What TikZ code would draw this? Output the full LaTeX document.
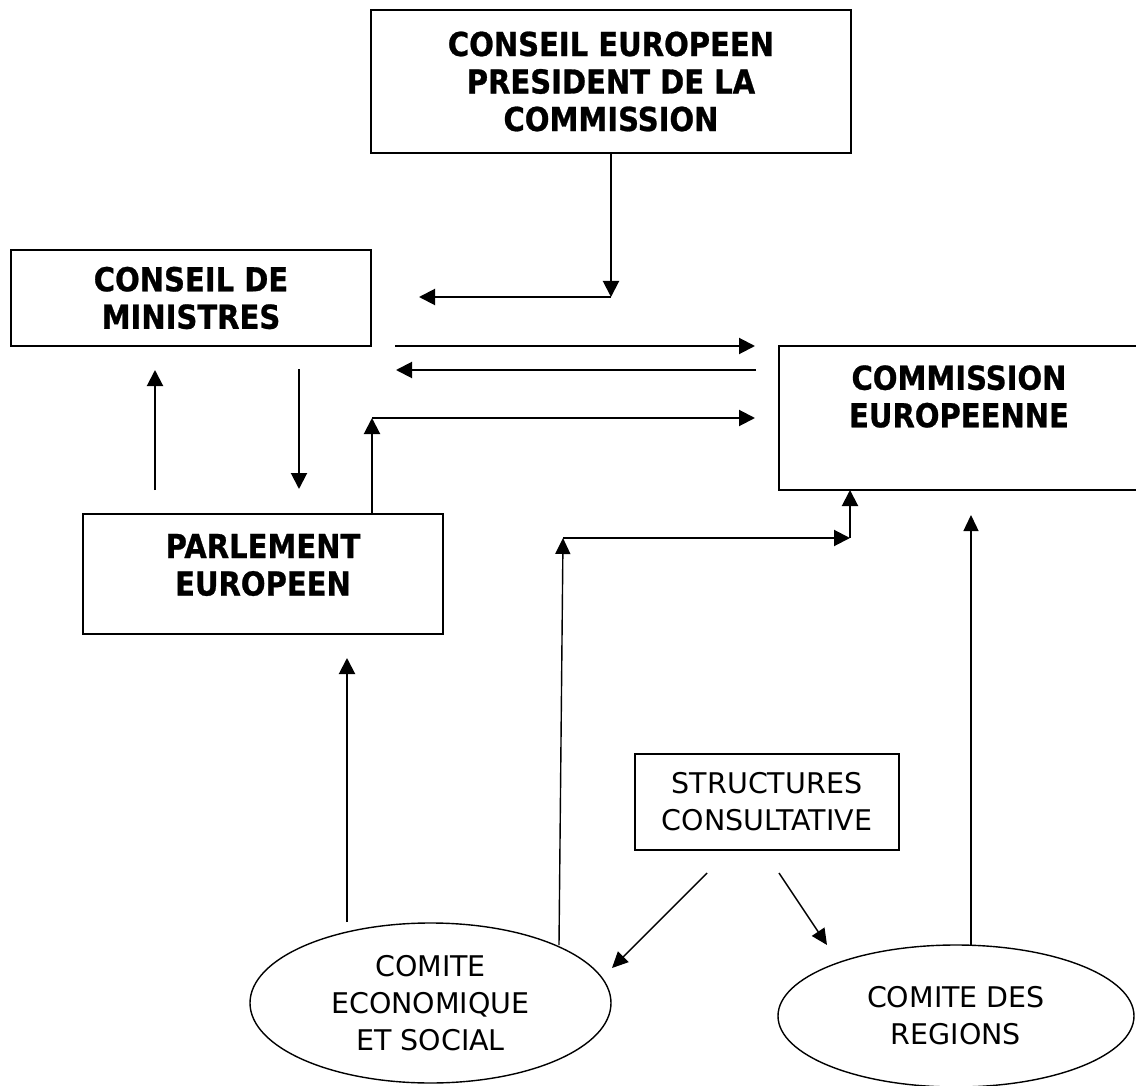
\documentclass[tikz,border=0pt]{standalone}
\usepackage{fontspec}
\usetikzlibrary{arrows.meta,shapes.geometric}
\newfontfamily\dvsb[FakeStretch=0.88, BoldFeatures={FakeBold=0.8}]{DejaVu Sans}
\newfontfamily\dvs{DejaVu Sans}
\begin{document}
\begin{tikzpicture}[x=1pt,y=-1pt,
  box/.style={draw, line width=2pt, inner sep=0pt, outer sep=0pt, align=center},
  btxt/.style={font={\dvsb\bfseries\fontsize{33}{37.5}\selectfont}, align=center},
  ntxt/.style={font={\dvs\fontsize{28.5}{37}\selectfont}, align=center},
  ell/.style={draw, ellipse, line width=1.4pt, inner sep=0pt, outer sep=0pt},
  arr/.style={line width=2pt, -{Triangle[length=16pt,width=16pt]}},
  tarr/.style={line width=1.4pt, -{Triangle[length=16pt,width=15pt]}}]
\useasboundingbox (0,0) rectangle (1136,1086);
% boxes
\node[box, btxt, minimum width=480pt, minimum height=143pt] (b1) at (611,81.5)
  {CONSEIL EUROPEEN\\PRESIDENT DE LA\\COMMISSION};
\node[box, btxt, minimum width=360pt, minimum height=96pt] (b2) at (191,298)
  {CONSEIL DE\\MINISTRES};
\node[box, minimum width=360pt, minimum height=144pt,
  label={[btxt, yshift=21.5pt]center:COMMISSION\\EUROPEENNE}] (b3) at (959,418) {};
\node[box, minimum width=360pt, minimum height=120pt,
  label={[btxt, yshift=9pt]center:PARLEMENT\\EUROPEEN}] (b4) at (263,574) {};
\node[box, ntxt, line width=1.6pt, minimum width=264pt, minimum height=96pt] (b5) at (767,802)
  {STRUCTURES\\CONSULTATIVE};
\node[ell, ntxt, minimum width=361pt, minimum height=160pt] (e1) at (430.5,1003)
  {COMITE\\ECONOMIQUE\\ET SOCIAL};
\node[ell, ntxt, minimum width=356pt, minimum height=142pt] (e2) at (956,1016)
  {COMITE DES\\REGIONS};
% coordinates
\coordinate (c1) at (611,297);
\coordinate (c1e) at (419,297);
\coordinate (a2s) at (395,346);
\coordinate (a2e) at (755,346);
\coordinate (a3s) at (756,370);
\coordinate (a3e) at (396,370);
\coordinate (c4) at (372,418);
\coordinate (a4e) at (755,418);
\coordinate (a5s) at (155,490);
\coordinate (a5e) at (155,370);
\coordinate (a6s) at (299,369);
\coordinate (a6e) at (299,489);
\coordinate (a7s) at (347,922);
\coordinate (a7e) at (347,658);
\coordinate (a8s) at (559,945);
\coordinate (c8) at (563,538);
\coordinate (c8b) at (850,538);
\coordinate (a9s) at (707,873);
\coordinate (a9e) at (612,968);
\coordinate (a10s) at (779,873);
\coordinate (a10e) at (827,945);
\coordinate (a11s) at (971,946);
\coordinate (a11e) at (971,515);
% connectors
\draw[arr] (b1.south) -- (c1);
\draw[arr] (c1) -- (c1e);
\draw[arr] (a2s) -- (a2e);
\draw[arr] (a3s) -- (a3e);
\draw[arr] (b4.north -| c4) -- (c4);
\draw[arr] (c4) -- (a4e);
\draw[arr] (a5s) -- (a5e);
\draw[arr] (a6s) -- (a6e);
\draw[arr] (a7s) -- (a7e);
\draw[tarr] (a8s) -- (c8);
\draw[arr] (c8) -- (c8b);
\draw[arr] (c8b) -- (b3.south -| c8b);
\draw[tarr] (a9s) -- (a9e);
\draw[tarr] (a10s) -- (a10e);
\draw[tarr] (a11s) -- (a11e);
\end{tikzpicture}
\end{document}
